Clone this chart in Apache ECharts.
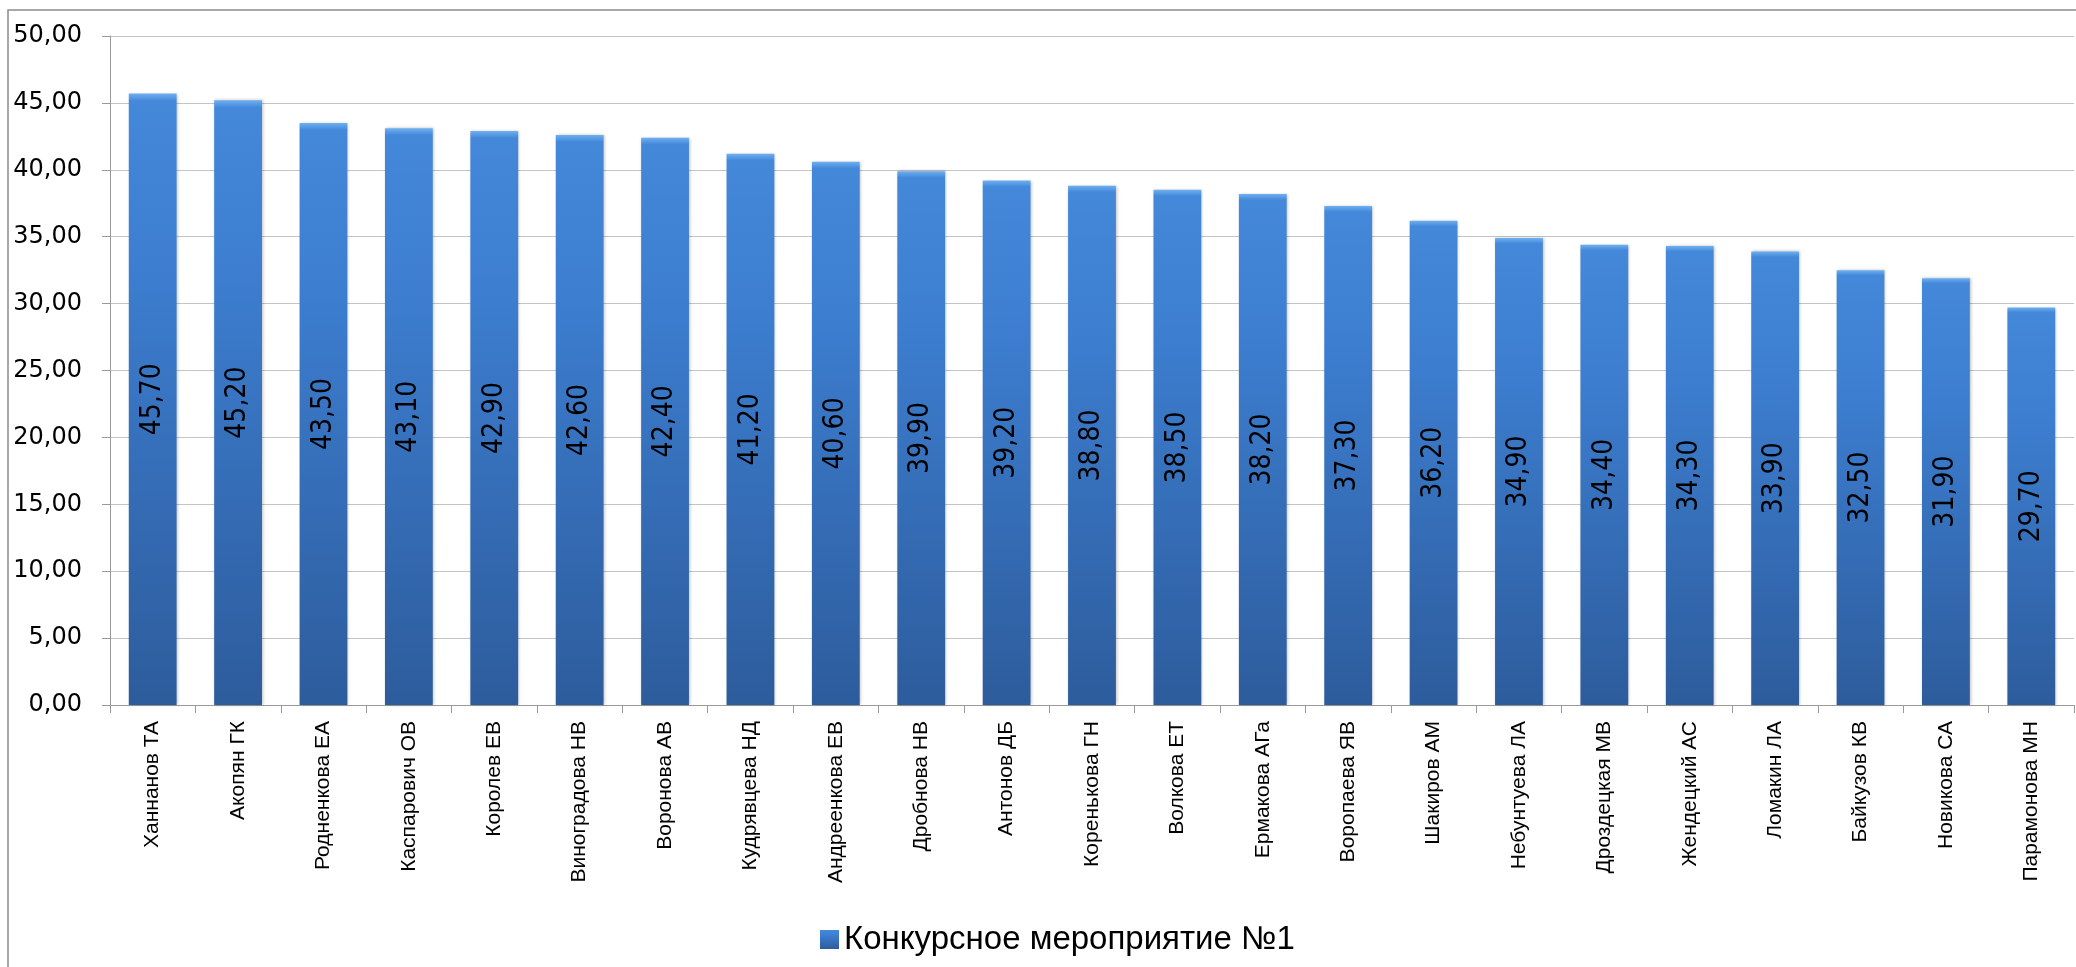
<!DOCTYPE html>
<html lang="ru">
<head>
    <meta charset="UTF-8">
    <title>Конкурсное мероприятие №1</title>
    <script src="https://cdn.jsdelivr.net/npm/echarts@6/dist/echarts.min.js"></script>
    <style>
        html, body { margin: 0; padding: 0; background: #fff; }
    </style>
</head>
<body>
<div id="box" style="width: 2076px;height: 967px;"></div>
<script>
    var names = ['Ханнанов ТА', 'Акопян ГК', 'Родненкова ЕА', 'Каспарович ОВ', 'Королев ЕВ',
        'Виноградова НВ', 'Воронова АВ', 'Кудрявцева НД', 'Андреенкова ЕВ', 'Дробнова НВ',
        'Антонов ДБ', 'Коренькова ГН', 'Волкова ЕТ', 'Ермакова АГа', 'Воропаева ЯВ',
        'Шакиров АМ', 'Небунтуева ЛА', 'Дроздецкая МВ', 'Жендецкий АС', 'Ломакин ЛА',
        'Байкузов КВ', 'Новикова СА', 'Парамонова МН'];
    var scores = [45.7, 45.2, 43.5, 43.1, 42.9, 42.6, 42.4, 41.2, 40.6, 39.9, 39.2, 38.8,
        38.5, 38.2, 37.3, 36.2, 34.9, 34.4, 34.3, 33.9, 32.5, 31.9, 29.7];
    var seriesName = 'Конкурсное мероприятие №1';

    function fmt(v) {
        return Number(v).toFixed(2).replace('.', ',');
    }

    var barColor = new echarts.graphic.LinearGradient(0, 0, 0, 1, [
        {offset: 0, color: '#6fb0f0'},
        {offset: 0.012, color: '#4488da'},
        {offset: 0.3, color: '#3c7dcf'},
        {offset: 1, color: '#2d5c9c'}
    ]);

    var myChart = echarts.init(document.getElementById('box'));
    var option = {
        animation: false,
        graphic: [{
            type: 'rect',
            shape: {x: 8, y: 10, width: 2200, height: 1100},
            style: {fill: 'none', stroke: '#8c8c8c', lineWidth: 1.5},
            silent: true
        }],
        grid: {
            left: 110,
            right: 2,
            top: 36,
            bottom: 262
        },
        legend: {
            data: [seriesName],
            icon: 'rect',
            left: 815,
            top: 918,
            itemWidth: 19,
            itemHeight: 19,
            itemGap: 8,
            textStyle: {
                fontFamily: 'Liberation Sans',
                fontSize: 33,
                color: '#000'
            }
        },
        xAxis: {
            type: 'category',
            data: names,
            axisLine: {lineStyle: {color: '#9a9a9a'}},
            axisTick: {show: true, length: 8, lineStyle: {color: '#9a9a9a'}},
            axisLabel: {
                rotate: 90,
                interval: 0,
                margin: 16,
                fontFamily: 'Liberation Sans',
                fontSize: 21,
                color: '#000'
            }
        },
        yAxis: {
            type: 'value',
            min: 0,
            max: 50,
            interval: 5,
            axisLine: {show: true, lineStyle: {color: '#9a9a9a'}},
            axisTick: {show: true, length: 8, lineStyle: {color: '#9a9a9a'}},
            splitLine: {lineStyle: {color: '#c4c4c4'}},
            axisLabel: {
                margin: 28,
                fontFamily: 'DejaVu Sans',
                fontSize: 24,
                color: '#000',
                formatter: fmt
            }
        },
        series: [{
            name: seriesName,
            type: 'bar',
            data: scores,
            barCategoryGap: '44%',
            itemStyle: {
                color: barColor,
                shadowColor: 'rgba(0,0,0,0.25)',
                shadowBlur: 3,
                shadowOffsetX: 1
            },
            label: {
                show: true,
                position: 'inside',
                rotate: 90,
                fontFamily: 'DejaVu Sans Condensed, sans-serif',
                fontSize: 28,
                color: '#000',
                formatter: function (p) { return fmt(p.value); }
            }
        }]
    };
    myChart.setOption(option);
</script>
</body>
</html>
